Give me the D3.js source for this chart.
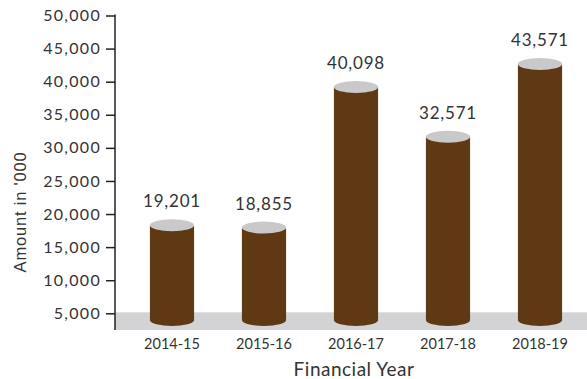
<!DOCTYPE html>
<html>
<head>
<meta charset="utf-8">
<script src="https://cdn.jsdelivr.net/npm/d3@7"></script>
<style>
  body { margin: 0; background: #fff; }
  svg { display: block; }
  text { fill: #333; }
</style>
</head>
<body>
<svg width="587" height="379"></svg>
<script>
// chart data
var years = ["2014-15", "2015-16", "2016-17", "2017-18", "2018-19"];
var amounts = [19201, 18855, 40098, 32571, 43571];
var yTicks = [5000, 10000, 15000, 20000, 25000, 30000, 35000, 40000, 45000, 50000];

var svg = d3.select("svg");
var W = 587, H = 379;

var x = d3.scaleBand().domain(years).range([126, 586])
  .paddingInner(0.52).paddingOuter(0.26);
var y = d3.scaleLinear().domain([0, 50000]).range([346.4, 15.5]);

var ry = 6;
var floorY = y(4000); // where the cylinders sit

// grey floor
svg.append("rect")
  .attr("x", 115).attr("y", y(5000) - 1)
  .attr("width", W - 115).attr("height", 330 - (y(5000) - 1))
  .attr("fill", "#d3d3d5");

// y axis
var yAxis = d3.axisLeft(y).tickValues(yTicks).tickSize(9).tickPadding(5)
  .tickFormat(d3.format(","));
var ga = svg.append("g").attr("transform", "translate(115,0)").call(yAxis);
ga.select(".domain").remove();
ga.selectAll(".tick line").attr("stroke", "#222").attr("stroke-width", 1.5);
ga.selectAll(".tick text").attr("font-family", "Lato, sans-serif")
  .attr("font-size", 16).attr("letter-spacing", 1.3).attr("fill", "#333");
svg.append("line").attr("x1", 115).attr("x2", 115)
  .attr("y1", y(50000) - 1).attr("y2", 330)
  .attr("stroke", "#222").attr("stroke-width", 1.5);

var data = years.map(function(d, i){ return {year: d, value: amounts[i]}; });

var bars = svg.selectAll(".bar").data(data).enter().append("g").attr("class", "bar");

// body
bars.append("path")
  .attr("fill", "#5e3914")
  .attr("d", function(d){
    var x0 = x(d.year), x1 = x0 + x.bandwidth(), rx = x.bandwidth() / 2;
    var top = y(d.value) + ry;
    return "M" + x0 + "," + top + "L" + x0 + "," + floorY +
      "A" + rx + "," + ry + " 0 0 0 " + x1 + "," + floorY +
      "L" + x1 + "," + top + "Z";
  });

// top ellipse
bars.append("ellipse")
  .attr("cx", function(d){ return x(d.year) + x.bandwidth() / 2; })
  .attr("cy", function(d){ return y(d.value) + ry; })
  .attr("rx", x.bandwidth() / 2).attr("ry", ry)
  .attr("fill", "#c9c9c9");

// value labels
bars.append("text")
  .attr("x", function(d){ return x(d.year) + x.bandwidth() / 2; })
  .attr("y", function(d){ return y(d.value) - 12; })
  .attr("text-anchor", "middle")
  .attr("font-family", "Lato, sans-serif").attr("font-size", 17)
  .attr("letter-spacing", 0.8)
  .text(function(d){ return d3.format(",")(d.value); });

// x labels
svg.selectAll(".xl").data(years).enter().append("text")
  .attr("class", "xl")
  .attr("x", function(d){ return x(d) + x.bandwidth() / 2; })
  .attr("y", 349)
  .attr("text-anchor", "middle")
  .attr("font-family", "Lato, sans-serif")
  .attr("font-size", 14.5)
  .text(function(d){ return d; });

// axis titles
svg.append("text").attr("x", 354).attr("y", 376)
  .attr("text-anchor", "middle")
  .attr("font-family", "Lato, sans-serif").attr("font-size", 19)
  .attr("letter-spacing", 0.5)
  .text("Financial Year");

svg.append("text")
  .attr("transform", "translate(26,212) rotate(-90)")
  .attr("text-anchor", "middle")
  .attr("font-family", "'Liberation Sans', Arial, sans-serif").attr("font-size", 16.5)
  .attr("letter-spacing", 0.8)
  .text("Amount in '000");
</script>
</body>
</html>
